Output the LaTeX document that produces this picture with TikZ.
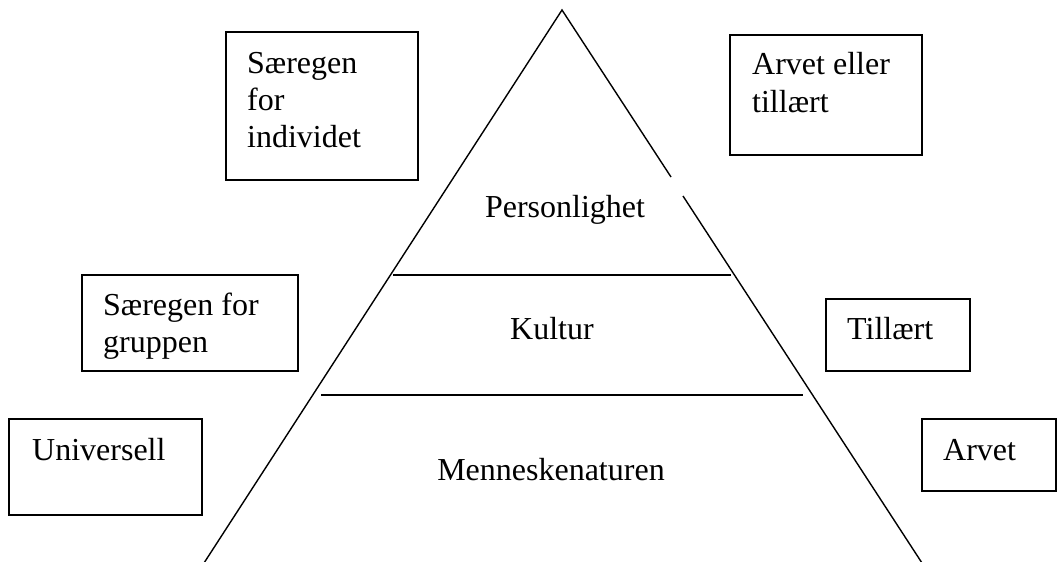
\documentclass[tikz,border=0pt]{standalone}
\usepackage{fontspec}
\setmainfont{Liberation Serif}
\begin{document}
\begin{tikzpicture}[x=1pt,y=-1pt,
  box/.style={draw,line width=1.8pt,rectangle,inner sep=0pt},
  txt/.style={anchor=base west,inner sep=0pt,font=\fontsize{32}{37}\selectfont},
  lbl/.style={anchor=base,inner sep=0pt,font=\fontsize{32}{37}\selectfont},
  edge/.style={line width=1.4pt},
  tier/.style={line width=1.8pt}]
\useasboundingbox (0,0) rectangle (1058,562);
\clip (0,0) rectangle (1058,562);
% pyramid
\coordinate (apex) at (562,10);
\coordinate (bl) at (204,563);
\coordinate (br) at (922,563);
\coordinate (gapA) at (671,177);
\coordinate (gapB) at (683,196);
\draw[edge] (bl) -- (apex) -- (gapA);
\draw[edge] (gapB) -- (br);
\coordinate (t1l) at (393,275);
\coordinate (t1r) at (731,275);
\coordinate (t2l) at (321,395);
\coordinate (t2r) at (803,395);
\draw[tier] (t1l) -- (t1r);
\draw[tier] (t2l) -- (t2r);
\node[lbl] (pers) at (565,217) {Personlighet};
\node[lbl] (kult) at (552,339) {Kultur};
\node[lbl] (menn) at (551,480) {Menneskenaturen};
% left boxes
\node[box,minimum width=192pt,minimum height=148pt] (bInd) at (322,106) {};
\node[txt] (ind1) at (247,73) {Særegen};
\node[txt] (ind2) at (247,110) {for};
\node[txt] (ind3) at (247,147) {individet};
\node[box,minimum width=216pt,minimum height=96pt] (bGrp) at (190,323) {};
\node[txt] (grp1) at (103,315) {Særegen for};
\node[txt] (grp2) at (103,352) {gruppen};
\node[box,minimum width=193pt,minimum height=96pt] (bUni) at (105.5,467) {};
\node[txt] (uni) at (32,460) {Universell};
% right boxes
\node[box,minimum width=192pt,minimum height=120pt] (bArvT) at (826,95) {};
\node[txt] (arvt1) at (752,74) {Arvet eller};
\node[txt] (arvt2) at (752,112) {tillært};
\node[box,minimum width=144pt,minimum height=72pt] (bTil) at (898,335) {};
\node[txt] (til) at (847,339) {Tillært};
\node[box,minimum width=134pt,minimum height=72pt] (bArv) at (989,455) {};
\node[txt] (arv) at (943,460) {Arvet};
\end{tikzpicture}
\end{document}
